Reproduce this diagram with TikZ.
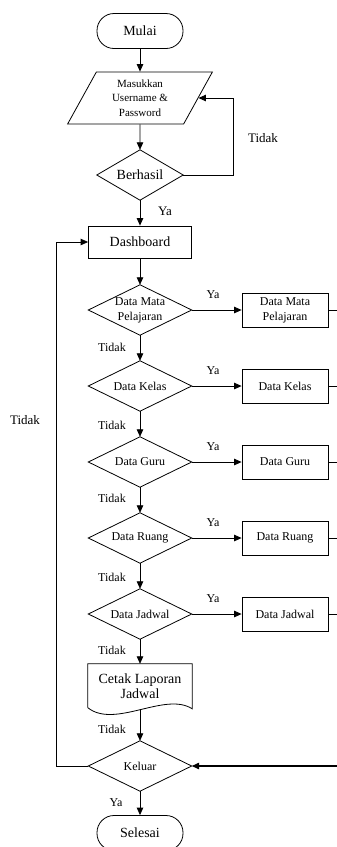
\documentclass[tikz,border=0pt]{standalone}
\usepackage{fontspec}
\setmainfont{Liberation Serif}
\usetikzlibrary{arrows.meta,shapes.geometric,calc}

\newcommand{\fsbig}{\fontsize{14}{15}\selectfont}
\newcommand{\fsmid}{\fontsize{12}{15}\selectfont}
\newcommand{\fssmall}{\fontsize{11}{14.5}\selectfont}

\tikzset{
  flow/.style={line width=0.8pt},
  arr/.style={flow,-{Triangle[length=7.5pt,width=6.5pt]}},
  terminal/.style={draw,flow,rectangle,rounded corners=17pt,minimum width=86pt,minimum height=35pt,inner sep=0pt,font=\fsbig},
  process/.style={draw,flow,rectangle,minimum width=103pt,minimum height=32pt,inner sep=0pt,font=\fsbig},
  subproc/.style={draw,flow,rectangle,minimum width=86pt,minimum height=34pt,inner sep=0pt,align=center,font=\fsmid},
  % decision: a flat diamond drawn through the vertices of its box
  decision/.style={rectangle,minimum width=103pt,minimum height=50pt,inner sep=0pt,align=center,font=\fsmid,
    append after command={\pgfextra{\draw[flow] (\tikzlastnode.north) -- (\tikzlastnode.east)
      -- (\tikzlastnode.south) -- (\tikzlastnode.west) -- cycle;}}},
  iobox/.style={draw,flow,trapezium,trapezium left angle=63.4,trapezium right angle=116.6,trapezium stretches=true,minimum width=146pt,minimum height=52pt,inner sep=0pt,align=center,font=\fssmall},
  lbl/.style={inner sep=0pt,font=\fsmid},
}

\begin{document}
\begin{tikzpicture}[x=1pt,y=-1pt]
\useasboundingbox (0,0) rectangle (337,847);

% main column
\node[terminal] (mulai) at (140,31) {Mulai};
\node[iobox] (input) at (140,98) {Masukkan\\Username \&\\Password};
\node[decision,minimum width=86pt,font=\fsbig] (berhasil) at (140,175) {Berhasil};
\node[process] (dash) at (140,242) {Dashboard};

\node[decision] (dmp) at (140,310) {Data Mata\\Pelajaran};
\node[decision] (dkl) at (140,386) {Data Kelas};
\node[decision] (dgr) at (140,462) {Data Guru};
\node[decision] (drg) at (140,538) {Data Ruang};
\node[decision] (djd) at (140,614) {Data Jadwal};

\node[inner sep=0pt,minimum width=104pt,minimum height=45pt,align=center,font=\fsbig] (cetak) at (140,686.5) {Cetak Laporan\\Jadwal};
\draw[flow] (cetak.south west) ++(0,-1.5) -- (cetak.north west) -- (cetak.north east) -- ++(0,45)
  .. controls ($(cetak.south east)+(-27,-18)$) and ($(cetak.south west)+(27,20)$) .. ($(cetak.south west)+(0,-1.5)$);

\node[decision] (keluar) at (140,766) {Keluar};
\node[terminal] (selesai) at (140,833) {Selesai};

% menu pages
\node[subproc] (pmp) at (285,310) {Data Mata\\Pelajaran};
\node[subproc] (pkl) at (285,386) {Data Kelas};
\node[subproc] (pgr) at (285,462) {Data Guru};
\node[subproc] (prg) at (285,538) {Data Ruang};
\node[subproc] (pjd) at (285,614) {Data Jadwal};

% right-hand return line
\coordinate (rmp) at (337,310);
\coordinate (rkl) at (337,386);
\coordinate (rgr) at (337,462);
\coordinate (rrg) at (337,538);
\coordinate (rjd) at (337,614);
\coordinate (rkel) at (337,766);

% login loop
\coordinate (lpA) at (233,175);
\coordinate (lpB) at (233,98);
\coordinate (inR) at ($(input.top right corner)!0.5!(input.bottom right corner)$);

% dashboard loop
\coordinate (lkA) at (56,766);
\coordinate (lkB) at (56,242);

% connectors
\draw[arr] (mulai) -- (input);
\draw[arr] (input) -- (berhasil);
\draw[arr] (berhasil) -- (dash);
\draw[arr] (berhasil.east) -- (lpA) -- (lpB) -- (inR);
\draw[arr] (dash) -- (dmp);
\draw[arr] (dmp) -- (dkl);
\draw[arr] (dkl) -- (dgr);
\draw[arr] (dgr) -- (drg);
\draw[arr] (drg) -- (djd);
\draw[arr] (djd) -- (cetak.north);
\draw[arr] (cetak.south) -- (keluar);
\draw[arr] (keluar) -- (selesai);

\draw[arr] (dmp.east) -- (pmp.west);
\draw[arr] (dkl.east) -- (pkl.west);
\draw[arr] (dgr.east) -- (pgr.west);
\draw[arr] (drg.east) -- (prg.west);
\draw[arr] (djd.east) -- (pjd.west);

\draw[flow] (pmp.east) -- (rmp);
\draw[flow] (pkl.east) -- (rkl);
\draw[flow] (pgr.east) -- (rgr);
\draw[flow] (prg.east) -- (rrg);
\draw[flow] (pjd.east) -- (rjd);
\draw[arr,line width=1.3pt] (rkel) -- (keluar.east);

\draw[arr] (keluar.west) -- (lkA) -- (lkB) -- (dash.west);

% labels
\node[lbl,font=\fontsize{13}{15}\selectfont] at (263,138) {Tidak};
\node[lbl,font=\fontsize{13}{15}\selectfont] at (165,211) {Ya};
\node[lbl,font=\fontsize{13}{15}\selectfont] at (25,420) {Tidak};

\node[lbl] at (213,295) {Ya};
\node[lbl] at (213,371) {Ya};
\node[lbl] at (213,447) {Ya};
\node[lbl] at (213,523) {Ya};
\node[lbl] at (213,599) {Ya};

\node[lbl] at (112,347) {Tidak};
\node[lbl] at (112,425) {Tidak};
\node[lbl] at (112,498) {Tidak};
\node[lbl] at (112,577) {Tidak};
\node[lbl] at (112,650) {Tidak};
\node[lbl] at (112,729) {Tidak};
\node[lbl] at (116,803) {Ya};
\end{tikzpicture}
\end{document}
